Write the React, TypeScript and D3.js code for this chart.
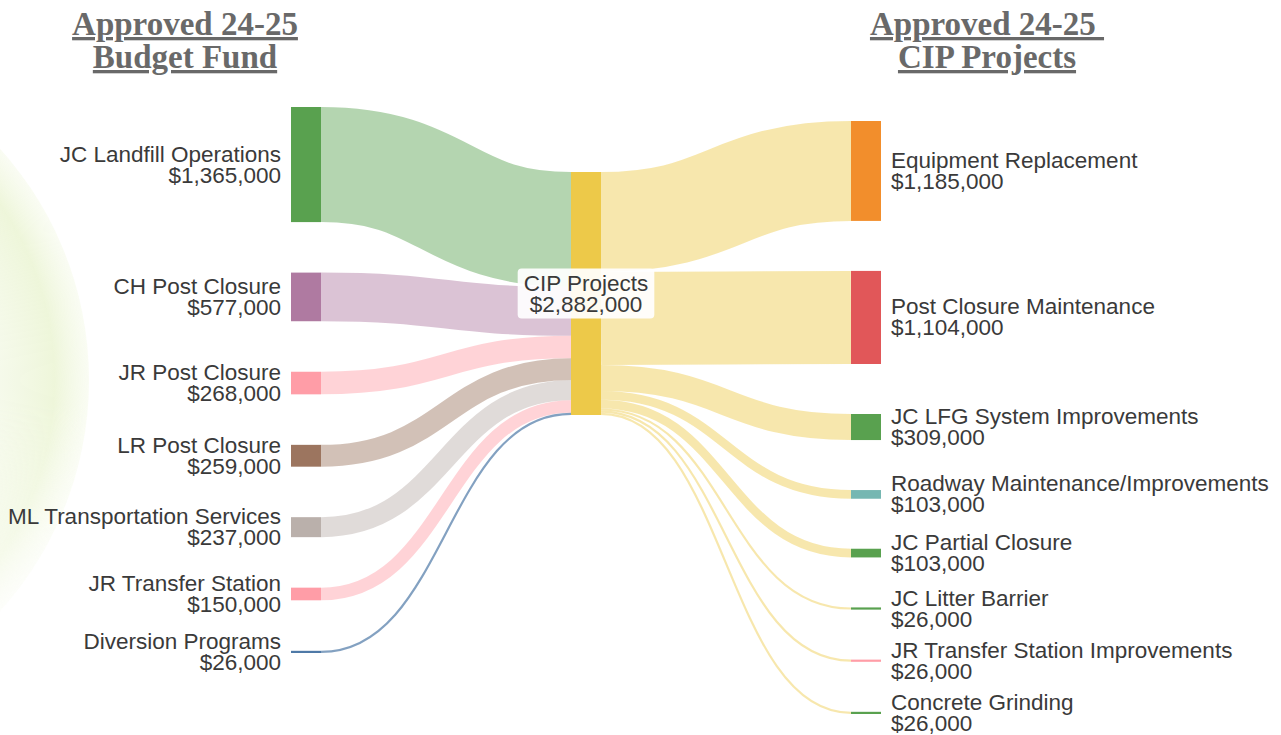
import React, { useEffect, useRef } from 'react';
import * as d3 from 'd3';

// budget funds (left column)
const fundNames = [
  'JC Landfill Operations',
  'CH Post Closure',
  'JR Post Closure',
  'LR Post Closure',
  'ML Transportation Services',
  'JR Transfer Station',
  'Diversion Programs',
];
const fundValues = [1365000, 577000, 268000, 259000, 237000, 150000, 26000];
const fundColors = ['#59a14f', '#af7aa1', '#ff9da7', '#9c755f', '#bab0ab', '#ff9da7', '#4e79a7'];

// middle node
const hubName = 'CIP Projects';
const hubColor = '#edc949';

// CIP projects (right column)
const projectNames = [
  'Equipment Replacement',
  'Post Closure Maintenance',
  'JC LFG System Improvements',
  'Roadway Maintenance/Improvements',
  'JC Partial Closure',
  'JC Litter Barrier',
  'JR Transfer Station Improvements',
  'Concrete Grinding',
];
const projectValues = [1185000, 1104000, 309000, 103000, 103000, 26000, 26000, 26000];
const projectColors = ['#f28e2c', '#e15759', '#59a14f', '#76b7b2', '#59a14f', '#59a14f', '#ff9da7', '#59a14f'];

const leftTitle = ['Approved 24-25', 'Budget Fund'];
const rightTitle = ['Approved 24-25\u00a0', 'CIP Projects'];

const W = 1281, H = 735;
const NODE_W = 30;
const colX = [291, 571, 851];
const colTop = [107, 172, 121];
const colPad = [50.5, 0, 50];
const LABEL_FONT = '"Liberation Sans", Arial, sans-serif';
const LABEL_SIZE = 22.5;
const TITLE_FONT = '"Liberation Serif", "DejaVu Serif", serif';

type SNode = { name: string; value: number; color: string; x0: number; x1: number; y0: number; y1: number };
type SLink = { sx: number; sy: number; tx: number; ty: number; w: number; color: string };

const fmt = (v: number) => '$' + d3.format(',')(v);

const App: React.FC = () => {
  const svgRef = useRef<SVGSVGElement | null>(null);

  useEffect(() => {
    if (!svgRef.current) return;
    document.body.style.margin = '0';
    document.body.style.overflow = 'hidden';

    const total = d3.sum(fundValues);
    const ky = d3.scaleLinear().domain([0, total]).range([0, 243]);

    const stack = (names: string[], values: number[], colors: string[], col: number): SNode[] => {
      let y = colTop[col];
      return names.map((name, i) => {
        const h = ky(values[i]);
        const n = { name, value: values[i], color: colors[i], x0: colX[col], x1: colX[col] + NODE_W, y0: y, y1: y + h };
        y += h + colPad[col];
        return n;
      });
    };

    const funds = stack(fundNames, fundValues, fundColors, 0);
    const projects = stack(projectNames, projectValues, projectColors, 2);
    const hub: SNode = { name: hubName, value: total, color: hubColor, x0: colX[1], x1: colX[1] + NODE_W, y0: colTop[1], y1: colTop[1] + ky(total) };

    const links: SLink[] = [];
    let acc = hub.y0;
    funds.forEach((f) => {
      const w = f.y1 - f.y0;
      links.push({ sx: f.x1, sy: (f.y0 + f.y1) / 2, tx: hub.x0, ty: acc + w / 2, w, color: f.color });
      acc += w;
    });
    acc = hub.y0;
    projects.forEach((p) => {
      const w = p.y1 - p.y0;
      links.push({ sx: hub.x1, sy: acc + w / 2, tx: p.x0, ty: (p.y0 + p.y1) / 2, w, color: hubColor });
      acc += w;
    });

    const svg = d3.select(svgRef.current);
    svg.selectAll('*').remove();
    svg.attr('viewBox', `0 0 ${W} ${H}`);

    // soft green backdrop on the left
    const defs = svg.append('defs');
    const grad = defs.append('radialGradient').attr('id', 'bgGlow').attr('cx', '50%').attr('cy', '50%').attr('r', '50%');
    grad.append('stop').attr('offset', '60%').attr('stop-color', '#f7faef').attr('stop-opacity', 0.6);
    grad.append('stop').attr('offset', '90%').attr('stop-color', '#eef6da').attr('stop-opacity', 1);
    grad.append('stop').attr('offset', '100%').attr('stop-color', '#f2f8e2').attr('stop-opacity', 0.4);
    const fade = defs.append('linearGradient').attr('id', 'bgFade').attr('x1', 0).attr('y1', 0).attr('x2', 0).attr('y2', 1);
    fade.append('stop').attr('offset', '0%').attr('stop-color', '#fff');
    fade.append('stop').attr('offset', '55%').attr('stop-color', '#fff');
    fade.append('stop').attr('offset', '100%').attr('stop-color', '#000');
    defs.append('mask').attr('id', 'bgMask')
      .append('rect').attr('x', 0).attr('y', 0).attr('width', 200).attr('height', H).attr('fill', 'url(#bgFade)');

    svg.append('rect').attr('width', W).attr('height', H).attr('fill', '#ffffff');
    svg.append('circle').attr('cx', -256).attr('cy', 380).attr('r', 345)
      .attr('fill', 'url(#bgGlow)').attr('mask', 'url(#bgMask)');

    const linkPath = d3.linkHorizontal<SLink, [number, number]>()
      .source((d) => [d.sx, d.sy])
      .target((d) => [d.tx, d.ty]);

    svg.append('g').attr('fill', 'none')
      .selectAll('path').data(links).enter().append('path')
      .attr('d', (d) => linkPath(d) as string)
      .attr('stroke', (d) => d.color)
      .attr('stroke-opacity', (d) => (d.w < 4 && d.color !== hubColor ? 0.7 : 0.45))
      .attr('stroke-width', (d) => Math.max(1, d.w));

    const nodes = [...funds, hub, ...projects];
    svg.append('g').selectAll('rect').data(nodes).enter().append('rect')
      .attr('x', (d) => d.x0)
      .attr('y', (d) => d.y0)
      .attr('width', NODE_W)
      .attr('height', (d) => Math.max(1.5, d.y1 - d.y0))
      .attr('fill', (d) => d.color);

    const labels = svg.append('g')
      .attr('font-family', LABEL_FONT)
      .attr('font-size', LABEL_SIZE)
      .attr('fill', '#3a3a3a');

    const addLabel = (n: SNode, x: number, anchor: string) => {
      const cy = (n.y0 + n.y1) / 2;
      const t = labels.append('text').attr('text-anchor', anchor);
      t.append('tspan').attr('x', x).attr('y', cy - 3).text(n.name);
      t.append('tspan').attr('x', x).attr('y', cy + 18).text(fmt(n.value));
      return t;
    };
    funds.forEach((f) => addLabel(f, f.x0 - 10, 'end'));
    projects.forEach((p) => addLabel(p, p.x1 + 10, 'start'));

    // middle label sits on a white box
    const boxG = svg.append('g').attr('font-family', LABEL_FONT).attr('font-size', LABEL_SIZE).attr('fill', '#3a3a3a');
    const box = boxG.append('rect').attr('fill', '#ffffff').attr('fill-opacity', 0.92).attr('rx', 4);
    const hubCy = (hub.y0 + hub.y1) / 2;
    const hubText = boxG.append('text').attr('text-anchor', 'middle');
    hubText.append('tspan').attr('x', (hub.x0 + hub.x1) / 2).attr('y', hubCy - 3).text(hub.name);
    hubText.append('tspan').attr('x', (hub.x0 + hub.x1) / 2).attr('y', hubCy + 18).text(fmt(hub.value));
    const bb = (hubText.node() as SVGTextElement).getBBox();
    box.attr('x', bb.x - 6).attr('y', bb.y - 2).attr('width', bb.width + 12).attr('height', bb.height + 4);

    // column titles
    const titles = svg.append('g')
      .attr('font-family', TITLE_FONT)
      .attr('font-weight', 700)
      .attr('font-size', 33)
      .attr('fill', '#696969')
      .attr('text-anchor', 'middle')
      .style('text-decoration', 'underline');
    [[leftTitle, 185], [rightTitle, 987]].forEach(([lines, x]) => {
      (lines as string[]).forEach((line, i) => {
        titles.append('text').attr('x', x as number).attr('y', 35 + i * 33).text(line);
      });
    });
  }, []);

  return (
    <svg ref={svgRef} width={W} height={H} style={{ display: 'block', position: 'fixed', left: 0, top: 0 }} />
  );
};

export default App;
